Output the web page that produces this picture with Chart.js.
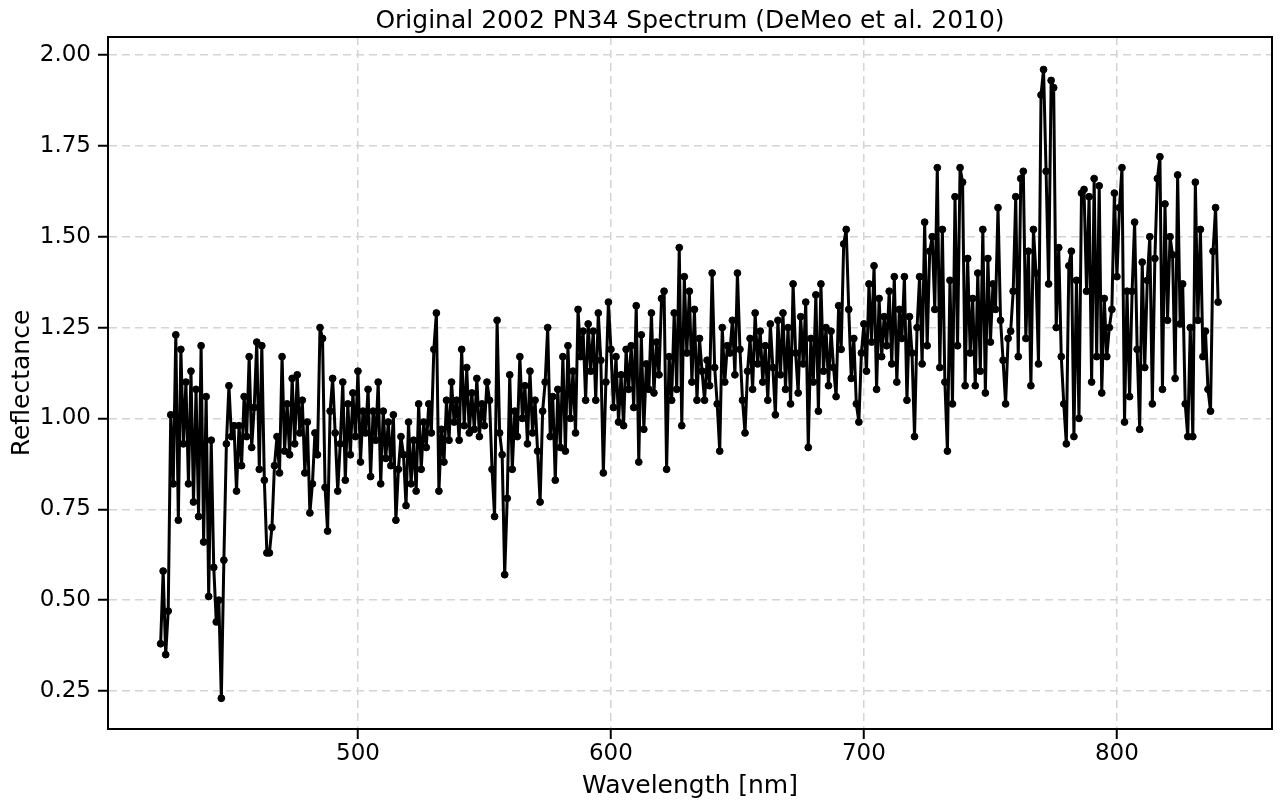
<!DOCTYPE html>
<html>
<head>
<meta charset="utf-8">
<title>2002 PN34 Spectrum</title>
<script src="https://cdn.jsdelivr.net/npm/chart.js@4.4.1/dist/chart.umd.min.js"></script>
<style>
    html, body { margin: 0; padding: 0; background: #ffffff; }
    #wrap { width: 1280px; height: 810px; }
</style>
</head>
<body>
<div id="wrap"><canvas id="spectrum" width="1280" height="810"></canvas></div>
<script>
// ==========================================
// 1. DATA
// ==========================================
const wavelengths = [
    422, 423, 424, 425, 426, 427, 428, 429, 430, 431,
    432, 433, 434, 435, 436, 437, 438, 439, 440, 441,
    442, 443, 444, 445, 446, 447, 448, 449, 450, 451,
    452, 453, 454, 455, 456, 457, 458, 459, 460, 461,
    462, 463, 464, 465, 466, 467, 468, 469, 470, 471,
    472, 473, 474, 475, 476, 477, 478, 479, 480, 481,
    482, 483, 484, 485, 486, 487, 488, 489, 490, 491,
    492, 493, 494, 495, 496, 497, 498, 499, 500, 501,
    502, 503, 504, 505, 506, 507, 508, 509, 510, 511,
    512, 513, 514, 515, 516, 517, 518, 519, 520, 521,
    522, 523, 524, 525, 526, 527, 528, 529, 530, 531,
    532, 533, 534, 535, 536, 537, 538, 539, 540, 541,
    542, 543, 544, 545, 546, 547, 548, 549, 550, 551,
    552, 553, 554, 555, 556, 557, 558, 559, 560, 561,
    562, 563, 564, 565, 566, 567, 568, 569, 570, 571,
    572, 573, 574, 575, 576, 577, 578, 579, 580, 581,
    582, 583, 584, 585, 586, 587, 588, 589, 590, 591,
    592, 593, 594, 595, 596, 597, 598, 599, 600, 601,
    602, 603, 604, 605, 606, 607, 608, 609, 610, 611,
    612, 613, 614, 615, 616, 617, 618, 619, 620, 621,
    622, 623, 624, 625, 626, 627, 628, 629, 630, 631,
    632, 633, 634, 635, 636, 637, 638, 639, 640, 641,
    642, 643, 644, 645, 646, 647, 648, 649, 650, 651,
    652, 653, 654, 655, 656, 657, 658, 659, 660, 661,
    662, 663, 664, 665, 666, 667, 668, 669, 670, 671,
    672, 673, 674, 675, 676, 677, 678, 679, 680, 681,
    682, 683, 684, 685, 686, 687, 688, 689, 690, 691,
    692, 693, 694, 695, 696, 697, 698, 699, 700, 701,
    702, 703, 704, 705, 706, 707, 708, 709, 710, 711,
    712, 713, 714, 715, 716, 717, 718, 719, 720, 721,
    722, 723, 724, 725, 726, 727, 728, 729, 730, 731,
    732, 733, 734, 735, 736, 737, 738, 739, 740, 741,
    742, 743, 744, 745, 746, 747, 748, 749, 750, 751,
    752, 753, 754, 755, 756, 757, 758, 759, 760, 761,
    762, 763, 764, 765, 766, 767, 768, 769, 770, 771,
    772, 773, 774, 775, 776, 777, 778, 779, 780, 781,
    782, 783, 784, 785, 786, 787, 788, 789, 790, 791,
    792, 793, 794, 795, 796, 797, 798, 799, 800, 801,
    802, 803, 804, 805, 806, 807, 808, 809, 810, 811,
    812, 813, 814, 815, 816, 817, 818, 819, 820, 821,
    822, 823, 824, 825, 826, 827, 828, 829, 830, 831,
    832, 833, 834, 835, 836, 837, 838, 839, 840
];

const reflectance = [
    0.38, 0.58, 0.35, 0.47, 1.01, 0.82, 1.23, 0.72, 1.19, 0.93,
    1.10, 0.82, 1.13, 0.77, 1.08, 0.73, 1.20, 0.66, 1.06, 0.51,
    0.94, 0.59, 0.44, 0.50, 0.23, 0.61, 0.93, 1.09, 0.95, 0.98,
    0.80, 0.98, 0.87, 1.06, 0.95, 1.17, 0.92, 1.03, 1.21, 0.86,
    1.20, 0.83, 0.63, 0.63, 0.70, 0.87, 0.95, 0.85, 1.17, 0.91,
    1.04, 0.90, 1.11, 0.93, 1.12, 0.96, 1.05, 0.85, 0.99, 0.74,
    0.82, 0.96, 0.90, 1.25, 1.22, 0.81, 0.69, 1.02, 1.11, 0.96,
    0.80, 0.93, 1.10, 0.83, 1.04, 0.90, 1.07, 0.95, 1.13, 0.88,
    1.02, 0.96, 1.08, 0.84, 1.02, 0.94, 1.10, 0.82, 1.02, 0.89,
    0.99, 0.87, 1.01, 0.72, 0.86, 0.95, 0.90, 0.76, 0.99, 0.82,
    0.94, 0.80, 1.04, 0.86, 0.99, 0.92, 1.04, 0.96, 1.19, 1.29,
    0.80, 0.97, 0.88, 1.05, 0.94, 1.10, 0.99, 1.05, 0.94, 1.19,
    0.98, 1.14, 0.96, 1.07, 0.97, 1.11, 0.95, 1.04, 0.98, 1.10,
    1.05, 0.86, 0.73, 1.27, 0.96, 0.90, 0.57, 0.78, 1.12, 0.86,
    1.02, 0.95, 1.17, 1.00, 1.09, 0.93, 1.13, 0.96, 1.05, 0.91,
    0.77, 1.02, 1.10, 1.25, 0.95, 1.06, 0.83, 1.08, 0.92, 1.17,
    0.91, 1.20, 1.00, 1.13, 0.96, 1.30, 1.17, 1.24, 1.05, 1.26,
    1.13, 1.24, 1.05, 1.29, 1.16, 0.85, 1.10, 1.32, 1.19, 1.03,
    1.17, 0.99, 1.12, 0.98, 1.19, 1.08, 1.20, 1.03, 1.31, 0.88,
    1.23, 0.97, 1.15, 1.08, 1.29, 1.07, 1.21, 1.12, 1.33, 1.35,
    0.86, 1.17, 1.05, 1.29, 1.08, 1.47, 0.98, 1.39, 1.18, 1.35,
    1.10, 1.30, 1.05, 1.22, 1.13, 1.05, 1.16, 1.09, 1.40, 1.14,
    1.04, 0.91, 1.25, 1.10, 1.20, 1.18, 1.27, 1.12, 1.40, 1.19,
    1.05, 0.96, 1.13, 1.22, 1.08, 1.29, 1.15, 1.24, 1.10, 1.20,
    1.05, 1.26, 1.14, 1.01, 1.27, 1.12, 1.29, 1.08, 1.25, 1.04,
    1.37, 1.18, 1.07, 1.28, 1.15, 1.32, 0.92, 1.22, 1.10, 1.34,
    1.02, 1.37, 1.13, 1.25, 1.09, 1.24, 1.14, 1.06, 1.31, 1.19,
    1.48, 1.52, 1.30, 1.11, 1.22, 1.04, 0.99, 1.18, 1.26, 1.13,
    1.37, 1.21, 1.42, 1.08, 1.33, 1.17, 1.28, 1.20, 1.35, 1.15,
    1.39, 1.10, 1.30, 1.22, 1.39, 1.05, 1.28, 1.18, 0.95, 1.25,
    1.39, 1.15, 1.54, 1.20, 1.46, 1.50, 1.30, 1.69, 1.14, 1.52,
    1.10, 0.91, 1.38, 1.04, 1.61, 1.20, 1.69, 1.65, 1.09, 1.44,
    1.18, 1.33, 1.09, 1.40, 1.13, 1.52, 1.07, 1.44, 1.21, 1.37,
    1.30, 1.58, 1.27, 1.16, 1.04, 1.22, 1.24, 1.35, 1.61, 1.17,
    1.66, 1.68, 1.22, 1.46, 1.09, 1.52, 1.40, 1.15, 1.89, 1.96,
    1.68, 1.37, 1.93, 1.91, 1.25, 1.47, 1.17, 1.04, 0.93, 1.42,
    1.46, 0.95, 1.38, 1.00, 1.62, 1.63, 1.35, 1.61, 1.10, 1.66,
    1.17, 1.64, 1.07, 1.33, 1.17, 1.25, 1.30, 1.62, 1.39, 1.58,
    1.69, 0.99, 1.35, 1.06, 1.35, 1.54, 1.19, 0.97, 1.43, 1.14,
    1.38, 1.50, 1.04, 1.44, 1.66, 1.72, 1.08, 1.59, 1.27, 1.50,
    1.45, 1.11, 1.67, 1.26, 1.37, 1.04, 0.95, 1.25, 0.95, 1.65,
    1.27, 1.52, 1.17, 1.24, 1.08, 1.02, 1.46, 1.58, 1.32
];

const xTicks = [500, 600, 700, 800];
const yTicks = [0.25, 0.50, 0.75, 1.00, 1.25, 1.50, 1.75, 2.00];

// ==========================================
// 2. PLUGIN BINGKAI (spine atas & kanan)
// ==========================================
const framePlugin = {
    id: 'frame',
    afterDraw(chart) {
        const { ctx, chartArea: a } = chart;
        ctx.save();
        ctx.strokeStyle = '#000000';
        ctx.lineWidth = 2;
        ctx.strokeRect(a.left, a.top, a.right - a.left, a.bottom - a.top);
        ctx.restore();
    }
};

const FONT = 'DejaVu Sans';
const points = wavelengths.map((w, i) => ({ x: w, y: reflectance[i] }));

// ==========================================
// 3. CHART
// ==========================================
const ctx = document.getElementById('spectrum').getContext('2d');
new Chart(ctx, {
    type: 'line',
    data: {
        datasets: [{
            label: '2002 PN34',
            data: points,
            borderColor: '#000000',
            borderWidth: 3,
            borderJoinStyle: 'round',
            borderCapStyle: 'round',
            pointRadius: 3.4,
            pointBorderWidth: 1,
            pointBackgroundColor: '#000000',
            pointBorderColor: '#000000',
            tension: 0,
            fill: false
        }]
    },
    options: {
        responsive: false,
        animation: false,
        devicePixelRatio: 1,
        layout: { padding: { left: 0, right: 8, top: 0, bottom: 0 } },
        plugins: {
            legend: { display: false },
            tooltip: { enabled: false },
            title: {
                display: true,
                text: 'Original 2002 PN34 Spectrum (DeMeo et al. 2010)',
                color: '#000000',
                fullSize: false,
                font: { family: FONT, size: 25, weight: 'normal' },
                padding: { top: 6, bottom: 1 }
            }
        },
        scales: {
            x: {
                type: 'linear',
                min: 401.2,
                max: 861.3,
                afterFit: (scale) => { scale.height = 81; },
                afterBuildTicks: (scale) => { scale.ticks = xTicks.map(v => ({ value: v })); },
                ticks: {
                    color: '#000000',
                    font: { family: FONT, size: 23 },
                    padding: 1,
                    maxRotation: 0,
                    callback: (v) => String(v)
                },
                grid: {
                    color: '#d4d4d4',
                    lineWidth: 1.5,
                    tickLength: 10,
                    tickColor: '#000000',
                    tickWidth: 2,
                    tickBorderDash: []
                },
                border: { display: true, color: '#000000', width: 2, dash: [8, 5] },
                title: {
                    display: true,
                    text: 'Wavelength [nm]',
                    color: '#000000',
                    font: { family: FONT, size: 25 },
                    padding: { top: 0, bottom: 9 }
                }
            },
            y: {
                type: 'linear',
                min: 0.1454,
                max: 2.0495,
                afterFit: (scale) => { scale.width = 108; },
                afterBuildTicks: (scale) => { scale.ticks = yTicks.map(v => ({ value: v })); },
                ticks: {
                    color: '#000000',
                    font: { family: FONT, size: 23 },
                    padding: 7,
                    callback: (v) => Number(v).toFixed(2)
                },
                grid: {
                    color: '#d4d4d4',
                    lineWidth: 1.5,
                    tickLength: 10,
                    tickColor: '#000000',
                    tickWidth: 2,
                    tickBorderDash: []
                },
                border: { display: true, color: '#000000', width: 2, dash: [8, 5] },
                title: {
                    display: true,
                    text: 'Reflectance',
                    color: '#000000',
                    font: { family: FONT, size: 25 },
                    padding: { top: 7, bottom: 0 }
                }
            }
        }
    },
    plugins: [framePlugin]
});
</script>
</body>
</html>
